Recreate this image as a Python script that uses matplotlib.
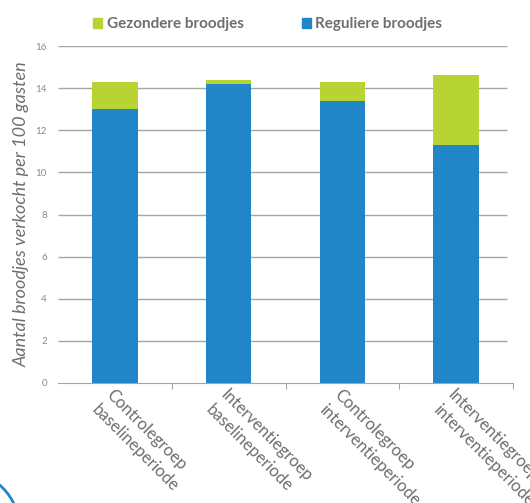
import matplotlib.pyplot as plt
import matplotlib.patches as mpatches
import numpy as np

plt.rcParams['font.family'] = ['Lato', 'DejaVu Sans']

categories = ['Controlegroep\nbaselineperiode', 'Interventiegroep\nbaselineperiode',
              'Controlegroep\ninterventieperiode', 'Interventiegroep\ninterventieperiode']
regulier = [13.0, 14.2, 13.4, 11.3]
gezonder = [1.3, 0.2, 0.9, 3.3]
yticks = [0, 2, 4, 6, 8, 10, 12, 14, 16]

green = '#b8d432'
blue = '#2086c8'
grey = '#6d6e70'

fig = plt.figure(figsize=(5.3, 5.03), dpi=100)
ax = fig.add_axes([58/530, 120/503, 455/530, 337/503])

x = np.arange(len(categories))
for yv in yticks[1:]:
    ax.hlines(yv, -0.5, 3.45, color='#a5a5a5', lw=1, zorder=0)
ax.bar(x, regulier, width=0.4, color=blue, zorder=2)
ax.bar(x, gezonder, width=0.4, bottom=regulier, color=green, zorder=2)

ax.set_xlim(-0.5, 3.5)
ax.set_ylim(0, 16)
ax.set_yticks(yticks)
ax.tick_params(axis='y', length=0, labelsize=7, labelcolor='#8a8a8a', pad=8)
ax.set_xticks(np.arange(0.5, 3.6, 1))
ax.set_xticklabels([])
ax.tick_params(axis='x', length=4, color='#a5a5a5')
ax.set_xticks(x, minor=True)
ax.set_xticklabels(categories, minor=True, rotation=-45, ha='left', va='top',
                   rotation_mode='anchor', fontsize=12, color=grey, linespacing=1.35)
ax.tick_params(axis='x', which='minor', length=0, pad=3)
for s in ['top', 'right', 'left']:
    ax.spines[s].set_visible(False)
ax.spines['bottom'].set_color('#a5a5a5')

ax.set_ylabel('Aantal broodjes verkocht per 100 gasten', style='italic',
              fontsize=13, color=grey, labelpad=4)

handles = [mpatches.Patch(color=green, label='Gezondere broodjes'),
           mpatches.Patch(color=blue, label='Reguliere broodjes')]
fig.legend(handles=handles, loc='center', bbox_to_anchor=(0.505, 0.952), ncol=2,
           frameon=False, handlelength=0.6, handleheight=0.6, handletextpad=0.3,
           columnspacing=3.8, prop={'weight': 'bold', 'size': 11}, labelcolor=grey)

arc = mpatches.Circle((-0.40, -0.27), 0.60, transform=fig.dpi_scale_trans,
                      fill=False, edgecolor=blue, lw=2)
fig.patches.append(arc)

fig.savefig('out.png', dpi=100)
